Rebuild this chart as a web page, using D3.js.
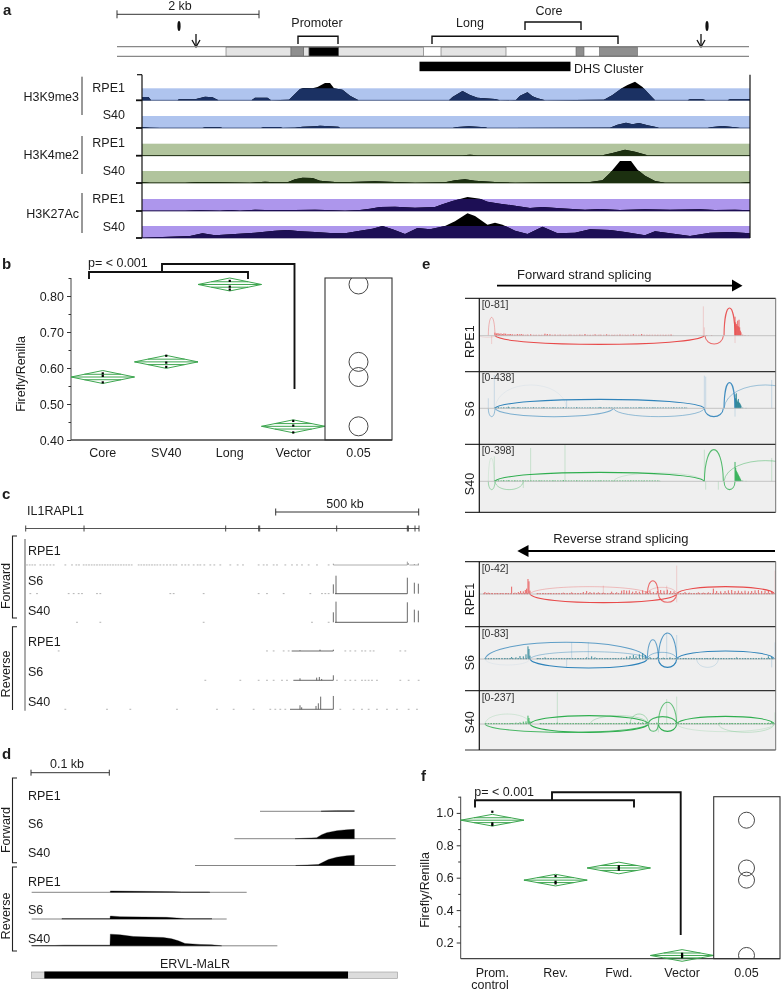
<!DOCTYPE html>
<html><head><meta charset="utf-8">
<script src="https://cdn.jsdelivr.net/npm/d3@7/dist/d3.min.js"></script>
<style>html,body{margin:0;padding:0;background:#fff}svg{display:block;filter:blur(.3px)}text{font-family:"Liberation Sans",Arial,sans-serif;fill:#1c1c1c}</style>
</head><body><svg id="c" width="782" height="992"></svg>
<script>
// ---------- Panel a data: [position, signal] ----------
const k9Rpe1=[[284,10],[297,10],[302,0],[355,0],[358,3],[390,3],[410,11],[425,9],[437,0],[503,0],[510,8],[535,8],[542,0],[578,2],[600,34],[607,37],[625,36],[635,40],[650,52],[660,52],[668,36],[685,32],[700,14],[717,0],[898,0],[905,10],[925,28],[940,16],[955,8],[990,4],[1000,0],[1032,1],[1040,14],[1055,24],[1065,12],[1075,6],[1090,0],[1208,2],[1225,16],[1245,38],[1255,46],[1270,56],[1285,40],[1300,16],[1310,0],[1375,0],[1380,3],[1405,3],[1412,0],[1455,0],[1460,3],[1490,3],[1500,4]];
const k9S40=[[284,3],[300,1],[320,0],[405,0],[410,2],[440,2],[445,0],[522,0],[528,3],[560,3],[565,0],[590,1],[605,4],[630,5],[640,7],[660,5],[677,4],[680,0],[905,0],[915,3],[938,5],[970,2],[975,0],[1220,1],[1235,10],[1252,16],[1265,11],[1278,15],[1295,8],[1312,3],[1318,0],[1415,0],[1425,3],[1445,6],[1470,2],[1480,0],[1500,0]];
const k4Rpe1=[[284,1],[925,1],[940,3],[955,1],[1205,1],[1225,8],[1250,18],[1270,12],[1295,1],[1500,1]];
const k4S40=[[284,3],[300,1],[370,1],[400,3],[440,2],[500,1],[530,4],[550,2],[575,2],[590,11],[605,16],[625,15],[640,7],[670,3],[700,3],[750,5],[790,3],[830,1],[890,2],[910,8],[930,11],[950,7],[990,3],[1030,1],[1100,2],[1180,3],[1205,8],[1220,30],[1240,66],[1262,66],[1275,40],[1290,22],[1310,6],[1330,1],[1480,1],[1500,3]];
const k27Rpe1=[[284,1],[370,1],[400,2],[440,1],[460,3],[480,1],[510,4],[530,3],[570,3],[590,3],[630,4],[650,3],[690,1],[720,3],[740,7],[760,12],[790,13],[830,10],[870,12],[885,20],[905,30],[935,42],[960,37],[975,28],[1000,22],[1030,16],[1060,9],[1085,12],[1120,8],[1170,4],[1200,6],[1240,3],[1290,5],[1340,4],[1400,5],[1430,3],[1470,4],[1500,2]];
const k27S40=[[284,1],[380,6],[405,14],[430,8],[470,12],[510,16],[550,22],[575,24],[600,20],[630,18],[660,15],[690,14],[720,22],[745,28],[765,36],[785,26],[810,12],[835,30],[860,26],[890,36],[910,50],[935,74],[950,66],[975,40],[990,46],[1005,40],[1030,22],[1055,12],[1085,34],[1115,14],[1150,16],[1180,26],[1220,24],[1250,18],[1290,8],[1310,20],[1340,14],[1380,6],[1420,16],[1460,18],[1500,14]];
const chipMarks=["H3K9me3","H3K4me2","H3K27Ac"];
const geneLight=[[452,582],[607,618],[677,847],[882,1012]];
const geneMid=[[582,607],[1152,1168],[1199,1275]];
const geneDark=[[618,677]];
const dhsCluster=[839,1141];

// ---------- Panels b, f data ----------
const catsB=["Core","SV40","Long","Vector"];
const meansB=[0.575,0.617,0.832,0.438];
const dotsB=[[0.56,0.578,0.585],[0.603,0.615,0.634],[0.818,0.826,0.842],[0.421,0.44,0.453]];
const ticksB=[0.4,0.5,0.6,0.7,0.8];
const minorB=[0.45,0.55,0.65,0.75,0.85];
const catsF=["Prom.","Rev.","Fwd.","Vector"];
const meansF=[0.955,0.585,0.66,0.12];
const dotsF=[[0.925,0.935,1.007],[0.565,0.575,0.61],[0.65,0.66,0.67],[0.11,0.12,0.13]];
const ticksF=[0.2,0.4,0.6,0.8,1.0];
const minorF=[0.3,0.5,0.7,0.9,1.1];

// ---------- Panel c data ----------
const exonsC=[77,252,677,776,779,1010,1222,1225,1245,1257];
const cLabels=["RPE1","S6","S40","RPE1","S6","S40"];
const fR_spikes=[[1000,4],[1222,10],[1225,6],[1243,3],[1255,5]];
const fS6_spikes=[[1000,28],[1008,54],[1222,48],[1243,33],[1255,30]];
const fS40_spikes=[[1000,30],[1008,62],[1222,60],[1243,38],[1255,35]];
const rR_spikes=[[900,2],[960,4],[1000,4]];
const rS6_spikes=[[900,6],[950,8],[958,10],[965,4],[1000,15]];
const rS40_spikes=[[900,12],[905,6],[948,10],[955,18],[962,38],[1000,40]];
const fR_runs=[[1000,1222],[1228,1257]];
const fS6_runs=[[1005,1222]];
const fS40_runs=[[1005,1222]];
const rR_runs=[[875,1000]];
const rS6_runs=[[880,1000]];
const rS40_runs=[[870,1000]];
const fR_dots=[80,88,96,104,120,130,140,150,160,195,215,228,236,250,258,266,274,282,290,298,306,314,322,330,338,346,354,362,370,378,386,394,415,423,431,439,447,455,463,471,480,490,500,510,520,528,545,555,565,580,592,600,612,630,642,660,690,712,728,775,790,800,820,830,855,875,890,905,925,950,985];
const fS6_dots=[90,110,205,220,235,245,290,300,510,520,610,775,800,850,930,965,975,985];
const fS40_dots=[230,300,610,935,985];
const rR_dots=[175,800,820,850,865,1035,1050,1065,1085,1095,1110,1120,1200,1215];
const rS6_dots=[615,720,775,800,820,845,860,1010,1035,1050,1065,1085,1095,1105,1115,1130,1200,1225,1255];
const rS40_dots=[195,320,390,530,650,700,760,810,825,840,855,1020,1060,1085,1105,1130,1160,1190,1225,1250];

// ---------- Panel d data ----------
const dLabels=["RPE1","S6","S40","RPE1","S6","S40"];
const dSpans=[[780,1063],[703,1187],[585,1187],[95,740],[95,680],[95,832]];
const dfR=[[963,0],[965,1],[1010,2],[1063,2],[1063,0]];
const dfS6=[[885,0],[950,3],[965,12],[980,18],[1010,24],[1040,27],[1063,28],[1063,0]];
const dfS40=[[887,0],[955,3],[985,18],[1010,25],[1040,29],[1063,31],[1063,0]];
const drR=[[331,0],[331,4],[405,3],[520,2],[545,1],[625,1],[630,0]];
const drS6=[[185,0],[186,1],[330,1],[331,9],[360,7],[500,5],[530,3],[555,1],[635,1],[636,0]];
const drS40=[[95,1],[165,1],[190,2],[330,2],[331,35],[360,33],[400,28],[490,25],[515,21],[535,15],[555,7],[600,4],[635,3],[665,0]];
const repeatSpan=[95,133,1044,1193];

// ---------- Panel e data: arcs [from, to, signed height, junction weight]; bars [position, coverage]; floors [from, to] ----------
const eNames=["RPE1","S6","S40"];
const fwdRanges=["[0-81]","[0-438]","[0-398]"];
const revRanges=["[0-42]","[0-83]","[0-237]"];
const fwdFloorR=[[165,700]];
const fwdFloorB=[[165,740]];
const fwdFloorG=[[165,660]];
const revFloorR=[[130,270],[290,1003]];
const revFloorB=[[135,270],[290,1003]];
const revFloorG=[[135,270],[300,1003]];
const fwdArcsR=[[165,793,-26,1],[145,165,55,.4],[795,850,-25,.8],[852,885,83,.9],[120,165,-5,.15]];
const fwdArcsB=[[165,793,27,1],[165,520,-25,.6],[520,793,-25,.5],[145,165,-25,.5],[793,850,-25,.9],[852,885,77,.9],[852,1100,70,.45],[165,380,70,.08]];
const fwdArcsG=[[165,793,27,1],[145,165,-25,.45],[165,250,-25,.4],[793,850,95,.8],[852,885,-25,.8],[852,1100,62,.45],[520,790,25,.2],[145,163,70,.15]];
const fwdTallR=[[790,88],[793,25],[885,-22],[155,-25]];
const fwdTallB=[[163,100],[145,30],[793,98],[797,95],[380,25],[885,-25],[995,85]];
const fwdTallG=[[163,75],[272,100],[375,110],[793,95],[797,-25],[250,-20],[995,70],[835,-25]];
const fwdBarsR=[[165,9],[170,7],[174,8],[178,6],[183,7],[188,5],[192,7],[197,6],[202,4],[207,5],[212,5],[218,4],[225,3],[232,5],[238,4],[244,5],[250,3],[262,3],[272,4],[285,2],[300,2],[315,6],[322,5],[330,4],[345,3],[360,3],[375,2],[390,3],[405,2],[420,3],[435,5],[450,2],[465,4],[480,3],[500,4],[520,2],[540,3],[560,2],[580,4],[605,5],[625,2],[650,1],[675,2],[693,3],[800,2],[815,2],[885,57],[887,40],[889,35],[891,30],[893,45],[895,28],[897,48],[899,25],[901,15],[903,10],[908,3],[915,2],[925,1]];
const fwdBarsB=[[165,3],[175,3],[190,2],[205,5],[220,3],[235,3],[255,2],[280,3],[310,3],[340,2],[370,3],[410,3],[450,2],[480,4],[510,2],[560,2],[600,3],[640,2],[700,2],[740,2],[885,42],[887,30],[889,45],[891,24],[893,20],[895,28],[897,18],[899,16],[901,12],[903,8],[908,2],[918,1]];
const fwdBarsG=[[165,4],[175,2],[190,3],[205,3],[225,2],[250,2],[300,2],[340,2],[370,3],[410,2],[450,1],[480,2],[520,1],[570,1],[610,1],[660,1],[885,58],[887,40],[889,32],[891,28],[893,24],[895,20],[897,16],[899,12],[901,8],[903,4],[908,2],[918,1]];
const revArcsR=[[270,710,-26,1],[270,625,22,.35],[622,655,40,.8],[655,710,-25,.8],[710,1003,22,1],[622,710,20,.3]];
const revArcsB=[[135,622,50,.75],[270,622,-27,1],[270,622,22,.45],[622,655,58,.7],[655,710,78,.8],[655,710,-25,1],[622,710,20,.5],[710,1003,24,1],[770,835,-25,.2],[135,270,-18,.08]];
const revArcsG=[[135,270,30,.18],[135,625,-25,.85],[270,625,25,1],[270,625,-25,1],[450,625,25,.3],[570,625,30,.4],[625,655,-22,.8],[655,710,65,.7],[655,710,-22,1],[625,710,22,.9],[710,1003,23,1],[710,1003,-23,.18],[835,1003,-25,.25]];
const revTallR=[[710,85],[1005,70],[490,25],[680,25],[710,-25]];
const revTallB=[[710,72],[1005,50],[445,50],[395,50],[995,-25],[380,-25],[680,80]];
const revTallG=[[352,95],[710,82],[1005,35],[680,75],[655,-25]];
const revBarsR=[[135,6],[145,4],[155,3],[170,2],[185,2],[200,3],[215,22],[225,4],[235,6],[242,9],[250,8],[256,12],[260,16],[264,45],[267,38],[270,10],[295,2],[310,3],[330,3],[350,3],[370,4],[395,5],[415,3],[430,6],[440,9],[450,6],[462,5],[475,5],[490,4],[515,7],[530,5],[545,10],[552,12],[560,10],[568,11],[578,7],[588,9],[598,7],[608,11],[618,9],[630,10],[640,6],[652,9],[662,12],[672,10],[682,13],[692,9],[702,8],[735,6],[748,4],[762,3],[775,5],[790,4],[805,5],[820,16],[830,9],[842,8],[855,9],[865,11],[875,12],[885,9],[895,10],[905,8],[915,10],[925,8],[935,9],[945,11],[955,12],[965,9],[975,10],[985,12],[995,9]];
const revBarsB=[[135,2],[155,2],[175,2],[195,3],[215,6],[228,5],[240,9],[250,8],[258,14],[264,38],[267,30],[270,10],[295,3],[315,5],[335,2],[360,2],[385,2],[415,3],[440,5],[455,8],[465,5],[480,3],[500,2],[525,3],[545,4],[560,7],[570,9],[580,12],[588,8],[598,14],[608,18],[616,12],[630,6],[652,5],[670,4],[690,5],[735,3],[755,3],[780,2],[800,3],[820,4],[845,3],[870,3],[890,5],[915,2],[940,3],[965,4],[985,8],[995,7]];
const revBarsG=[[135,1],[165,1],[195,2],[215,3],[228,4],[240,5],[250,7],[258,8],[264,25],[267,18],[270,8],[300,2],[330,2],[352,4],[380,2],[410,2],[440,2],[470,2],[510,2],[540,2],[560,5],[572,4],[584,4],[596,5],[608,5],[618,4],[650,4],[680,3],[740,2],[770,2],[800,1],[840,4],[875,3],[895,3],[915,2],[945,3],[965,2],[985,4],[995,6]];

// ---------- shared ----------
const svg=d3.select("#c");
const ink="#1c1c1c";
function txt(x,y,s,o={}){
  const t=svg.append("text").attr("x",x).attr("y",y).attr("dy","0.35em").attr("font-size",o.size||12.5)
    .attr("text-anchor",o.anchor||"start").attr("font-weight",o.bold?"bold":null).text(s);
  if(o.rot!==undefined) t.attr("transform",`rotate(${o.rot} ${x} ${y})`);
  return t;
}
function seg(x1,y1,x2,y2,c,w){return svg.append("line").attr("x1",x1).attr("y1",y1).attr("x2",x2).attr("y2",y2).attr("stroke",c||ink).attr("stroke-width",w||1);}
function poly(pts,c,w){return svg.append("path").attr("d",d3.line()(pts)).attr("fill","none").attr("stroke",c||ink).attr("stroke-width",w||1);}
function scaleBar(x1,x2,y,cap){seg(x1,y,x2,y,"#333",1);seg(x1,y-cap,x1,y+cap,"#333",1);seg(x2,y-cap,x2,y+cap,"#333",1);}
[["a",3,10],["b",2,264],["e",422,264],["c",2,494],["d",2,754],["f",421,776]].forEach(d=>txt(d[1],d[2],d[0],{size:15,bold:true}));

// ---------- Panel a ----------
const xA=d3.scaleLinear().domain([284,1500]).range([142,750]);
const hA=d3.scaleLinear().domain([0,1]).range([0,1/3]);
scaleBar(117,259,14.3,4);
txt(180,5.5,"2 kb",{anchor:"middle",size:12.5});
[[179,196],[707,701]].forEach(p=>{
  svg.append("ellipse").attr("cx",p[0]).attr("cy",26).attr("rx",1.6).attr("ry",5).attr("fill","#111");
  seg(p[1],34,p[1],47,"#111",1.3);
  poly([[p[1]-4,40],[p[1],47],[p[1]+4,40]],"#111",1.3);
});
txt(317,23,"Promoter",{anchor:"middle"});txt(470,23,"Long",{anchor:"middle"});txt(549,10.7,"Core",{anchor:"middle"});
poly([[298,44],[298,36.3],[338,36.3],[338,44]],"#111",1.4);
poly([[432,44],[432,36.3],[618,36.3],[618,44]],"#111",1.4);
poly([[525,30],[525,22],[581,22],[581,30]],"#111",1.4);
seg(117,46.7,749,46.7,"#888",1.2);seg(117,56.3,749,56.3,"#888",1.2);
function geneBoxes(arr,f){svg.append("g").selectAll("rect").data(arr).join("rect").attr("x",d=>xA(d[0])).attr("width",d=>xA(d[1])-xA(d[0])).attr("y",47.2).attr("height",8.8).attr("fill",f).attr("stroke","#666").attr("stroke-width",.6);}
geneBoxes(geneLight,"#e4e4e4");geneBoxes(geneMid,"#8f8f8f");geneBoxes(geneDark,"#000");
svg.append("rect").attr("x",xA(dhsCluster[0])).attr("width",xA(dhsCluster[1])-xA(dhsCluster[0])).attr("y",61.7).attr("height",9.5).attr("fill","#000");
txt(574,68.3,"DHS Cluster");
const chipTracks=[
 {d:k9Rpe1,base:100.3,band:"#afc4ee",dark:"#1b3163",lab:"RPE1",ly:87.3},
 {d:k9S40,base:128,band:"#afc4ee",dark:"#1b3163",lab:"S40",ly:115},
 {d:k4Rpe1,base:155.7,band:"#b1c49d",dark:"#1c3010",lab:"RPE1",ly:142.7},
 {d:k4S40,base:183,band:"#b1c49d",dark:"#1c3010",lab:"S40",ly:170.7},
 {d:k27Rpe1,base:211,band:"#ad96ec",dark:"#1d0f55",lab:"RPE1",ly:198.3},
 {d:k27S40,base:238,band:"#ad96ec",dark:"#1d0f55",lab:"S40",ly:226.7}];
const defs=svg.append("defs");
chipTracks.forEach((t,i)=>{
  const area=d3.area().x(d=>xA(d[0])).y0(t.base).y1(d=>t.base-hA(d[1]));
  svg.append("rect").attr("x",142).attr("width",608).attr("y",t.base-12).attr("height",12).attr("fill",t.band);
  svg.append("path").datum(t.d).attr("d",area).attr("fill","#000");
  defs.append("clipPath").attr("id","band"+i).append("rect").attr("x",142).attr("width",608).attr("y",t.base-12).attr("height",12);
  svg.append("path").datum(t.d).attr("d",area).attr("fill",t.dark).attr("clip-path",`url(#band${i})`);
  seg(142,t.base,750,t.base,t.dark,.7);
  seg(136,t.base,142,t.base,"#111",1.8);
  txt(125,t.ly,t.lab,{anchor:"end"});
});
seg(142,74.7,142,238,"#111",1.2);seg(750,74.7,750,238,"#111",1.2);seg(137,74.7,142,74.7,"#111",1.2);
chipMarks.forEach((m,i)=>{
  const ly=[96.7,155,213.3][i],y0=[76.7,136,193][i],y1=[115,174,233][i];
  txt(79,ly,m,{anchor:"end"});seg(82,y0,82,y1,"#333",1);
});

// ---------- Panels b, f ----------
function effect(o){
  const x=d3.scaleBand().domain(o.cats).range([o.x0,o.x1]);
  const y=d3.scaleLinear().domain(o.domain).range([o.yb,o.yt]);
  const g=svg.append("g");
  const left=g.append("g").attr("transform",`translate(${o.x0},0)`)
    .call(d3.axisLeft(y).tickValues(o.ticks).tickFormat(d3.format(o.fmt)).tickSize(4).tickPadding(3));
  left.selectAll("text").attr("font-size",12.5).attr("fill",ink).attr("font-family",'"Liberation Sans"');
  left.selectAll("line").attr("stroke","#333");left.select(".domain").attr("stroke","#444").attr("d",`M0,${o.yt}V${o.yb}`);
  const minor=g.append("g").attr("transform",`translate(${o.x0},0)`).call(d3.axisLeft(y).tickValues(o.minor).tickFormat("").tickSize(2.5));
  minor.select(".domain").remove();minor.selectAll("line").attr("stroke","#333");
  const bot=g.append("g").attr("transform",`translate(0,${o.yb})`).call(d3.axisBottom(x).tickSize(0).tickPadding(o.pad));
  bot.select(".domain").attr("stroke","#444").attr("stroke-width",1.3).attr("d",`M${o.x0},0H${o.x2}`);
  bot.selectAll("text").attr("font-size",12.5).attr("fill",ink).attr("font-family",'"Liberation Sans"');
  const bw=x.bandwidth();
  const cell=g.append("g").selectAll("g").data(o.cats).join("g").attr("transform",d=>`translate(${x(d)+bw/2},0)`);
  cell.append("path").attr("fill","none").attr("stroke","#3ea650").attr("stroke-width",1)
    .attr("d",(d,i)=>{const m=o.means[i],a=y(m),t=y(m+o.ci),b=y(m-o.ci),t2=y(m+o.ci*.42),b2=y(m-o.ci*.42);
      return `M${-bw/2},${a}L0,${t}L${bw/2},${a}L0,${b}Z M${-bw/2},${a}H${bw/2} M${-bw*.29},${t2}H${bw*.29} M${-bw*.29},${b2}H${bw*.29}`;});
  cell.each(function(d,i){
    d3.select(this).selectAll("rect").data(o.dots[i]).join("rect").attr("x",-1.1).attr("width",2.2).attr("y",v=>y(v)-1.1).attr("height",2.2).attr("fill","#000");
  });
  const cx=o.cmpX;
  defs.append("clipPath").attr("id",o.id).append("rect").attr("x",o.x1).attr("y",o.yt).attr("width",o.x2-o.x1).attr("height",o.yb-o.yt);
  g.append("g").attr("clip-path",`url(#${o.id})`).selectAll("circle").data(o.means).join("circle").attr("cx",cx).attr("cy",d=>y(d)).attr("r",o.r).attr("fill","none").attr("stroke","#333").attr("stroke-width",.9);
  g.append("rect").attr("x",o.x1).attr("y",o.yt).attr("width",o.x2-o.x1).attr("height",o.yb-o.yt).attr("fill","none").attr("stroke","#333").attr("stroke-width",1.1);
  txt(cx,o.yb+o.pad+4.5,"0.05",{anchor:"middle"});
  return {x,y};
}
effect({id:"cb",cats:catsB,means:meansB,dots:dotsB,ticks:ticksB,minor:minorB,domain:[.4,.85],fmt:".2f",ci:.018,x0:71,x1:325,x2:392,yb:440,yt:278,pad:8,cmpX:358.5,r:9.5});
txt(21,374,"Firefly/Renilla",{anchor:"middle",rot:-90});
txt(88,263,"p= < 0.001");
poly([[89,279],[89,272],[248,272],[248,279]],"#111",1.9);
poly([[162,272],[162,264],[294.5,264],[294.5,389]],"#111",1.9);

effect({id:"cf",cats:catsF,means:meansF,dots:dotsF,ticks:ticksF,minor:minorF,domain:[.1,1.1],fmt:".1f",ci:.036,x0:460.7,x1:713.7,x2:780,yb:958.7,yt:796.7,pad:9,cmpX:746.5,r:8});
txt(490,984.8,"control",{anchor:"middle"});
txt(425,890,"Firefly/Renilla",{anchor:"middle",rot:-90});
txt(474.3,791.5,"p= < 0.001");
poly([[475,807.5],[475,800.3],[634,800.3],[634,807.5]],"#111",1.9);
poly([[552,800.3],[552,792.3],[680.7,792.3],[680.7,935]],"#111",1.9);

// ---------- Panel c ----------
const xC=d3.scaleLinear().domain([77,1257]).range([25.7,419]);
const hC=d3.scaleLinear().domain([0,1]).range([0,1/3]);
txt(27,511,"IL1RAPL1");
scaleBar(275.7,418.7,512,3.5);
txt(345,503.5,"500 kb",{anchor:"middle"});
seg(25.7,528.5,419,528.5,"#555",1);
svg.append("g").selectAll("line").data(exonsC).join("line").attr("x1",d=>xC(d)).attr("x2",d=>xC(d)).attr("y1",525.5).attr("y2",531.5).attr("stroke","#333").attr("stroke-width",.9);
seg(25,539,25,710.7,"#666",1.1);
poly([[17,536],[12.5,536],[12.5,618],[17,618]],"#222",1.1);
poly([[17,626.7],[12.5,626.7],[12.5,710]],"#222",1.1);
txt(6,586,"Forward",{anchor:"middle",rot:-90,size:12.6});
txt(6,674,"Reverse",{anchor:"middle",rot:-90,size:12.6});
[551,581,611,642,672,702].forEach((y,i)=>txt(28,y,cLabels[i]));
[
 {b:565,s:fR_spikes,r:fR_runs,d:fR_dots,c:"#999"},
 {b:593.7,s:fS6_spikes,r:fS6_runs,d:fS6_dots,c:"#333"},
 {b:622.3,s:fS40_spikes,r:fS40_runs,d:fS40_dots,c:"#333"},
 {b:651,s:rR_spikes,r:rR_runs,d:rR_dots,c:"#444"},
 {b:680.3,s:rS6_spikes,r:rS6_runs,d:rS6_dots,c:"#444"},
 {b:709.3,s:rS40_spikes,r:rS40_runs,d:rS40_dots,c:"#444"}
].forEach(t=>{
  const g=svg.append("g");
  g.selectAll(".dot").data(t.d).join("rect").attr("class","dot").attr("x",d=>xC(d)-.6).attr("width",1.8).attr("y",t.b-.5).attr("height",.9).attr("fill","#aaa");
  g.selectAll(".run").data(t.r).join("line").attr("class","run").attr("x1",d=>xC(d[0])).attr("x2",d=>xC(d[1])).attr("y1",t.b).attr("y2",t.b).attr("stroke",t.c).attr("stroke-width",.8);
  g.selectAll(".sp").data(t.s).join("line").attr("class","sp").attr("x1",d=>xC(d[0])).attr("x2",d=>xC(d[0])).attr("y1",t.b).attr("y2",d=>t.b-hC(d[1])).attr("stroke",t.c==="#999"?"#888":"#444").attr("stroke-width",.8);
});

// ---------- Panel d ----------
const xD=d3.scaleLinear().domain([93,1193]).range([31,397.7]);
const hD=d3.scaleLinear().domain([0,1]).range([0,1/3]);
scaleBar(31,109.3,772.7,3);
txt(67,763.7,"0.1 kb",{anchor:"middle"});
poly([[17,778],[12.5,778],[12.5,862.7],[17,862.7]],"#222",1.1);
poly([[17,867],[12.5,867],[12.5,951],[17,951]],"#222",1.1);
txt(6,830,"Forward",{anchor:"middle",rot:-90,size:12.6});
txt(6,916,"Reverse",{anchor:"middle",rot:-90,size:12.6});
[795.7,824,853,881.7,910,939].forEach((y,i)=>txt(28,y,dLabels[i]));
[dfR,dfS6,dfS40,drR,drS6,drS40].forEach((p,i)=>{
  const b=[811.3,838.7,865.5,892.3,919,945.8][i];
  seg(xD(dSpans[i][0]),b,xD(dSpans[i][1]),b,"#666",.8);
  svg.append("path").datum(p).attr("d",d3.area().x(d=>xD(d[0])).y0(b).y1(d=>b-hD(d[1]))).attr("fill","#000").attr("stroke","#000").attr("stroke-width",.3);
});
txt(195,963.7,"ERVL-MaLR",{anchor:"middle"});
svg.append("rect").attr("x",xD(repeatSpan[0])).attr("width",xD(repeatSpan[3])-xD(repeatSpan[0])).attr("y",972).attr("height",6.5).attr("fill","#dcdcdc").attr("stroke","#999").attr("stroke-width",.6);
svg.append("rect").attr("x",xD(repeatSpan[1])).attr("width",xD(repeatSpan[2])-xD(repeatSpan[1])).attr("y",971.5).attr("height",7).attr("fill","#000");

// ---------- Panel e ----------
const xE=d3.scaleLinear().domain([118,1007]).range([479.3,775.7]);
const hE=d3.scaleLinear().domain([0,1]).range([0,1/3]);
const alphaE=d3.scaleLinear().domain([0,1]).range([0,1]);
defs.append("clipPath").attr("id","ec").append("rect").attr("x",479.3).attr("y",290).attr("width",296.4).attr("height",470);
function arcPath(a,base){
  const p=d3.path(),x1=xE(a[0]),x2=xE(a[1]),y=base-hE(a[2])*4/3,dx=(x2-x1)*.04;
  p.moveTo(x1,base);p.bezierCurveTo(x1+dx,y,x2-dx,y,x2,base);return p.toString();
}
function sashimi(panel){
  const {tops,bases,labelsY,rangesY,ranges,tracks}=panel;
  svg.append("rect").attr("x",479.3).attr("y",tops[0]).attr("width",296.4).attr("height",tops[3]-tops[0]).attr("fill","#efefef");
  tracks.forEach((t,i)=>{
    const b=bases[i],g=svg.append("g").attr("clip-path","url(#ec)");
    seg(479.3,b,775.7,b,"#bdbdbd",.9);
    g.selectAll(".floor").data(t.floor).join("line").attr("class","floor").attr("x1",d=>xE(d[0])).attr("x2",d=>xE(d[1])).attr("y1",b-.4).attr("y2",b-.4).attr("stroke",t.barColor).attr("stroke-width",panel.floorW).attr("stroke-dasharray","1.6 1.1");
    g.selectAll(".tall").data(t.tall).join("line").attr("class","tall").attr("x1",d=>xE(d[0])).attr("x2",d=>xE(d[0])).attr("y1",b).attr("y2",d=>b-hE(d[1])).attr("stroke",t.color).attr("stroke-opacity",.35).attr("stroke-width",.6);
    g.selectAll(".bar").data(t.bars).join("line").attr("class","bar").attr("x1",d=>xE(d[0])).attr("x2",d=>xE(d[0])).attr("y1",b).attr("y2",d=>b-hE(d[1])).attr("stroke",t.barColor).attr("stroke-width",.85);
    g.selectAll(".arc").data(t.arcs).join("path").attr("class","arc").attr("d",d=>arcPath(d,b)).attr("fill","none").attr("stroke",t.color).attr("stroke-opacity",d=>alphaE(d[3])).attr("stroke-width",d=>.8+.35*d[3]);
    txt(470,labelsY[i],eNames[i],{anchor:"middle",rot:-90,size:12.5});
    txt(481.7,rangesY[i],ranges[i],{size:10.5}).style("fill","#333");
  });
  tops.forEach(y=>seg(465,y,775.7,y,"#333",1.2));
  seg(479.3,tops[0],479.3,tops[3],"#111",1.2);
  seg(775.7,tops[0],775.7,tops[3],"#666",.9);
}
const red="#e84a4a",blue="#2f83ba",green="#2fae4f";
txt(517,274.5,"Forward strand splicing",{size:13});
seg(497,285.7,734,285.7,"#000",1.8);
svg.append("path").attr("d",d3.line()([[732,279.5],[742.5,285.7],[732,291.5]])+"Z").attr("fill","#000");
sashimi({floorW:.7,tops:[298.3,371.7,444.3,512.3],bases:[335.7,408.3,481.3],labelsY:[341.7,409,484],rangesY:[304.7,377.7,450],ranges:fwdRanges,
 tracks:[{color:red,barColor:red,arcs:fwdArcsR,tall:fwdTallR,bars:fwdBarsR,floor:fwdFloorR},
         {color:blue,barColor:"#167a8c",arcs:fwdArcsB,tall:fwdTallB,bars:fwdBarsB,floor:fwdFloorB},
         {color:green,barColor:"#1faa48",arcs:fwdArcsG,tall:fwdTallG,bars:fwdBarsG,floor:fwdFloorG}]});
txt(553.3,538.5,"Reverse strand splicing",{size:13});
seg(775,551,526,551,"#000",1.8);
svg.append("path").attr("d",d3.line()([[528.5,545],[517.3,551],[528.5,557]])+"Z").attr("fill","#000");
sashimi({floorW:1.1,tops:[561.7,626.7,690.7,750],bases:[594,659,724],labelsY:[599,662.7,722.3],rangesY:[568.3,633.3,697.3],ranges:revRanges,
 tracks:[{color:red,barColor:red,arcs:revArcsR,tall:revTallR,bars:revBarsR,floor:revFloorR},
         {color:blue,barColor:"#167a8c",arcs:revArcsB,tall:revTallB,bars:revBarsB,floor:revFloorB},
         {color:green,barColor:"#1faa48",arcs:revArcsG,tall:revTallG,bars:revBarsG,floor:revFloorG}]});
</script></body></html>
